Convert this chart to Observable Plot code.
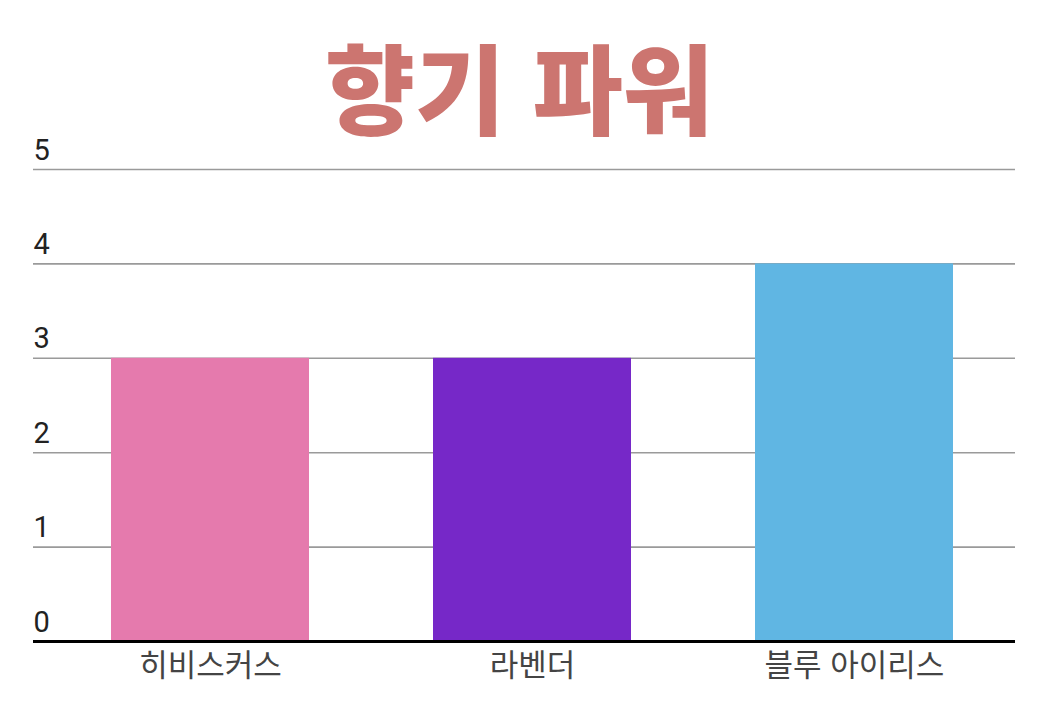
<!DOCTYPE html>
<html lang="ko">
<head>
<meta charset="utf-8">
<script src="https://cdn.jsdelivr.net/npm/d3@7"></script>
<script src="https://cdn.jsdelivr.net/npm/@observablehq/plot@0.6"></script>
<style>
  html, body { margin: 0; padding: 0; background: #fff; }
  #title {
    height: 130px;
    font-family: "Noto Sans CJK KR", sans-serif;
    font-weight: 900;
    font-size: 98px;
    line-height: 168px;
    color: #cc7570;
    text-align: center;
    overflow: visible;
  }
  #chart svg { display: block; }
</style>
</head>
<body>
<div id="title">향기 파워</div>
<div id="chart"></div>
<script>
// Fragrance strength per flower
const flowers = ["히비스커스", "라벤더", "블루 아이리스"];
const power = [3, 3, 4];
const barColors = ["#e57aad", "#7628c8", "#60b6e3"];
const yTicks = [0, 1, 2, 3, 4, 5];

const data = flowers.map((name, i) => ({name, value: power[i], color: barColors[i]}));

const chart = Plot.plot({
  width: 1038,
  height: 576,
  marginTop: 39,
  marginBottom: 65,
  marginLeft: 49,
  marginRight: 23,
  style: {fontFamily: "Roboto, 'Noto Sans CJK KR', sans-serif", background: "#fff"},
  x: {domain: flowers, paddingInner: 0.385, paddingOuter: 0.1925, label: null},
  y: {domain: [0, 5], label: null},
  marks: [
    Plot.ruleY(yTicks.filter(d => d > 0), {stroke: "#9a9a9a", strokeWidth: 1.6, insetLeft: -16}),
    Plot.barY(data, {x: "name", y: "value", fill: "color"}),
    Plot.ruleY([0], {stroke: "#000", strokeWidth: 3, insetLeft: -16}),
    Plot.axisY(yTicks, {
      tickSize: 0, tickPadding: 0, textAnchor: "start", lineAnchor: "bottom",
      tickFormat: "d", dx: -16, dy: -10, fontSize: 29, fill: "#222", label: null
    }),
    Plot.axisX({
      tickSize: 0, tickPadding: 12, fontSize: 31, fill: "#444", label: null,
      fontFamily: "'Noto Sans CJK KR', sans-serif"
    })
  ]
});
document.getElementById("chart").appendChild(chart);
</script>
</body>
</html>
